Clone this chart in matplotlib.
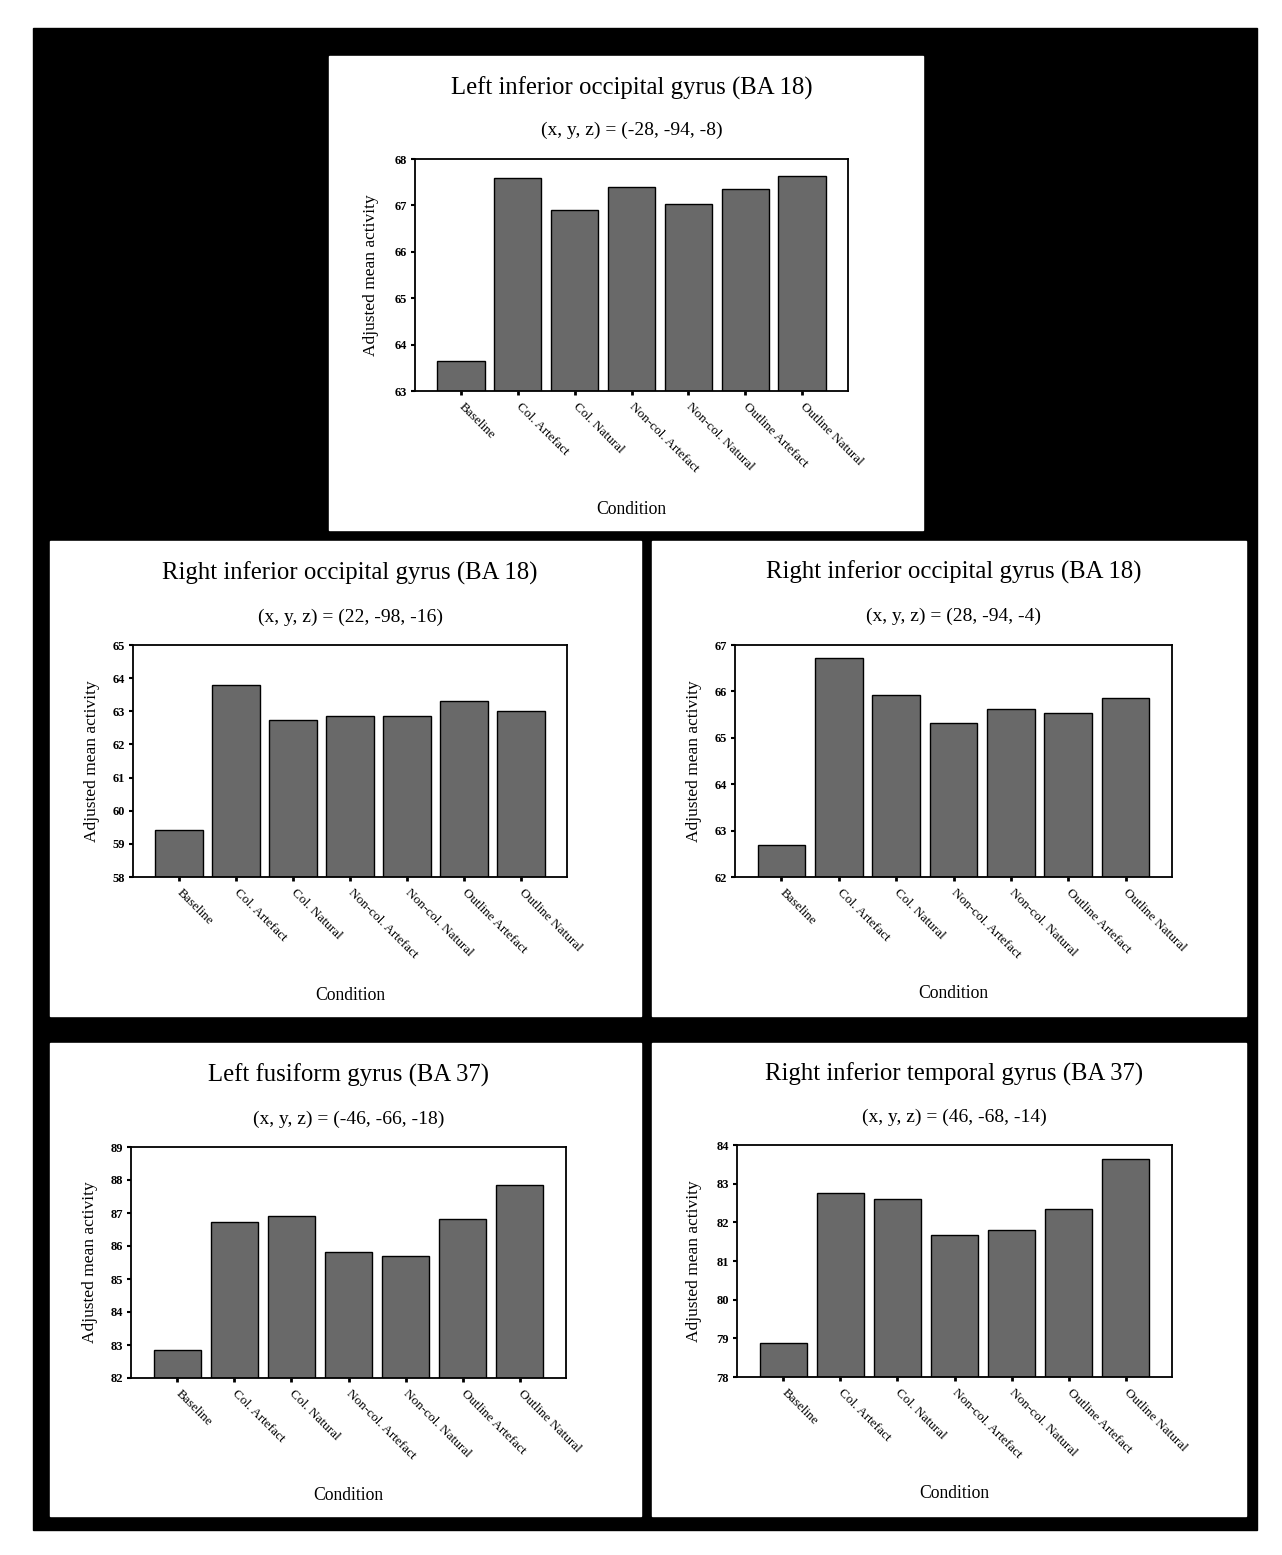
import matplotlib
matplotlib.use("Agg")
import matplotlib.pyplot as plt
from matplotlib.patches import Rectangle
import numpy as np

W, H = 1282, 1555

conditions = ["Baseline", "Col. Artefact", "Col. Natural", "Non-col. Artefact",
              "Non-col. Natural", "Outline Artefact", "Outline Natural"]

titles = ["Left inferior occipital gyrus (BA 18)",
          "Right inferior occipital gyrus (BA 18)",
          "Right inferior occipital gyrus (BA 18)",
          "Left fusiform gyrus (BA 37)",
          "Right inferior temporal gyrus (BA 37)"]
coords = ["(x, y, z) = (-28, -94, -8)",
          "(x, y, z) = (22, -98, -16)",
          "(x, y, z) = (28, -94, -4)",
          "(x, y, z) = (-46, -66, -18)",
          "(x, y, z) = (46, -68, -14)"]

left_iog = [63.65, 67.58, 66.91, 67.40, 67.02, 67.35, 67.63]
right_iog_a = [59.43, 63.80, 62.75, 62.86, 62.87, 63.32, 63.00]
right_iog_b = [62.69, 66.73, 65.93, 65.32, 65.61, 65.53, 65.86]
left_fg = [82.86, 86.74, 86.91, 85.81, 85.69, 86.82, 87.85]
right_itg = [78.87, 82.76, 82.60, 81.67, 81.81, 82.34, 83.65]
series = [left_iog, right_iog_a, right_iog_b, left_fg, right_itg]

y_ranges = [(63, 68), (58, 65), (62, 67), (82, 89), (78, 84)]

# pixel layout: white panel box, axes box, title y, subtitle y, xlabel y, ylabel x
panels = [
    ((329, 56, 923, 530), (415, 159, 848, 391), 88, 130, 510, 371),
    ((50, 541, 641, 1016), (133, 645, 567, 877), 573, 617, 995, 92),
    ((652, 541, 1246, 1016), (735, 645, 1172, 877), 572, 616, 994, 694),
    ((50, 1043, 641, 1516), (131, 1147, 566, 1378), 1075, 1119, 1495, 90),
    ((652, 1043, 1246, 1516), (737, 1145, 1172, 1377), 1074, 1117, 1493, 694),
]

serif = ["Liberation Serif", "DejaVu Serif"]
plt.rcParams["font.family"] = serif


def frac(box):
    x0, y0, x1, y1 = box
    return [x0 / W, 1 - y1 / H, (x1 - x0) / W, (y1 - y0) / H]


fig = plt.figure(figsize=(W / 100, H / 100), dpi=100)
fig.patches.append(Rectangle((33 / W, 1 - 1530 / H), (1257 - 33) / W, (1530 - 28) / H,
                             transform=fig.transFigure, color="black", zorder=0))

x = np.arange(len(conditions))
for i, (pbox, abox, ty, sy, cy, lx) in enumerate(panels):
    fig.patches.append(Rectangle(frac(pbox)[:2], *frac(pbox)[2:],
                                 transform=fig.transFigure, color="white", zorder=1))
    cx = (abox[0] + abox[2]) / 2 / W
    fig.text(cx, 1 - ty / H, titles[i], ha="center", va="center", fontsize=17.8)
    fig.text(cx, 1 - sy / H, coords[i], ha="center", va="center", fontsize=14)
    fig.text(cx, 1 - cy / H, "Condition", ha="center", va="center", fontsize=12.7)
    fig.text(lx / W, 1 - (abox[1] + abox[3]) / 2 / H, "Adjusted mean activity",
             ha="center", va="center", rotation=90, fontsize=12.5)

    ax = fig.add_axes(frac(abox))
    ax.set_zorder(3)
    ax.bar(x, series[i], width=0.83, color="#696969", edgecolor="black", linewidth=1.0)
    lo, hi = y_ranges[i]
    ax.set_ylim(lo, hi)
    ax.set_xlim(-0.81, 6.81)
    ax.set_yticks(np.arange(lo, hi + 1))
    ax.tick_params(axis="y", direction="out", length=3, width=1.5, labelsize=9, pad=3)
    for t in ax.get_yticklabels():
        t.set_fontweight("bold")
    ax.set_xticks(x)
    ax.set_xticklabels(conditions, rotation=-45, ha="left", va="center",
                       rotation_mode="anchor", fontsize=9.5)
    ax.tick_params(axis="x", direction="out", length=3, width=2, pad=7)
    for s in ax.spines.values():
        s.set_linewidth(1.3)

fig.savefig("out.png", dpi=100, facecolor="white")
